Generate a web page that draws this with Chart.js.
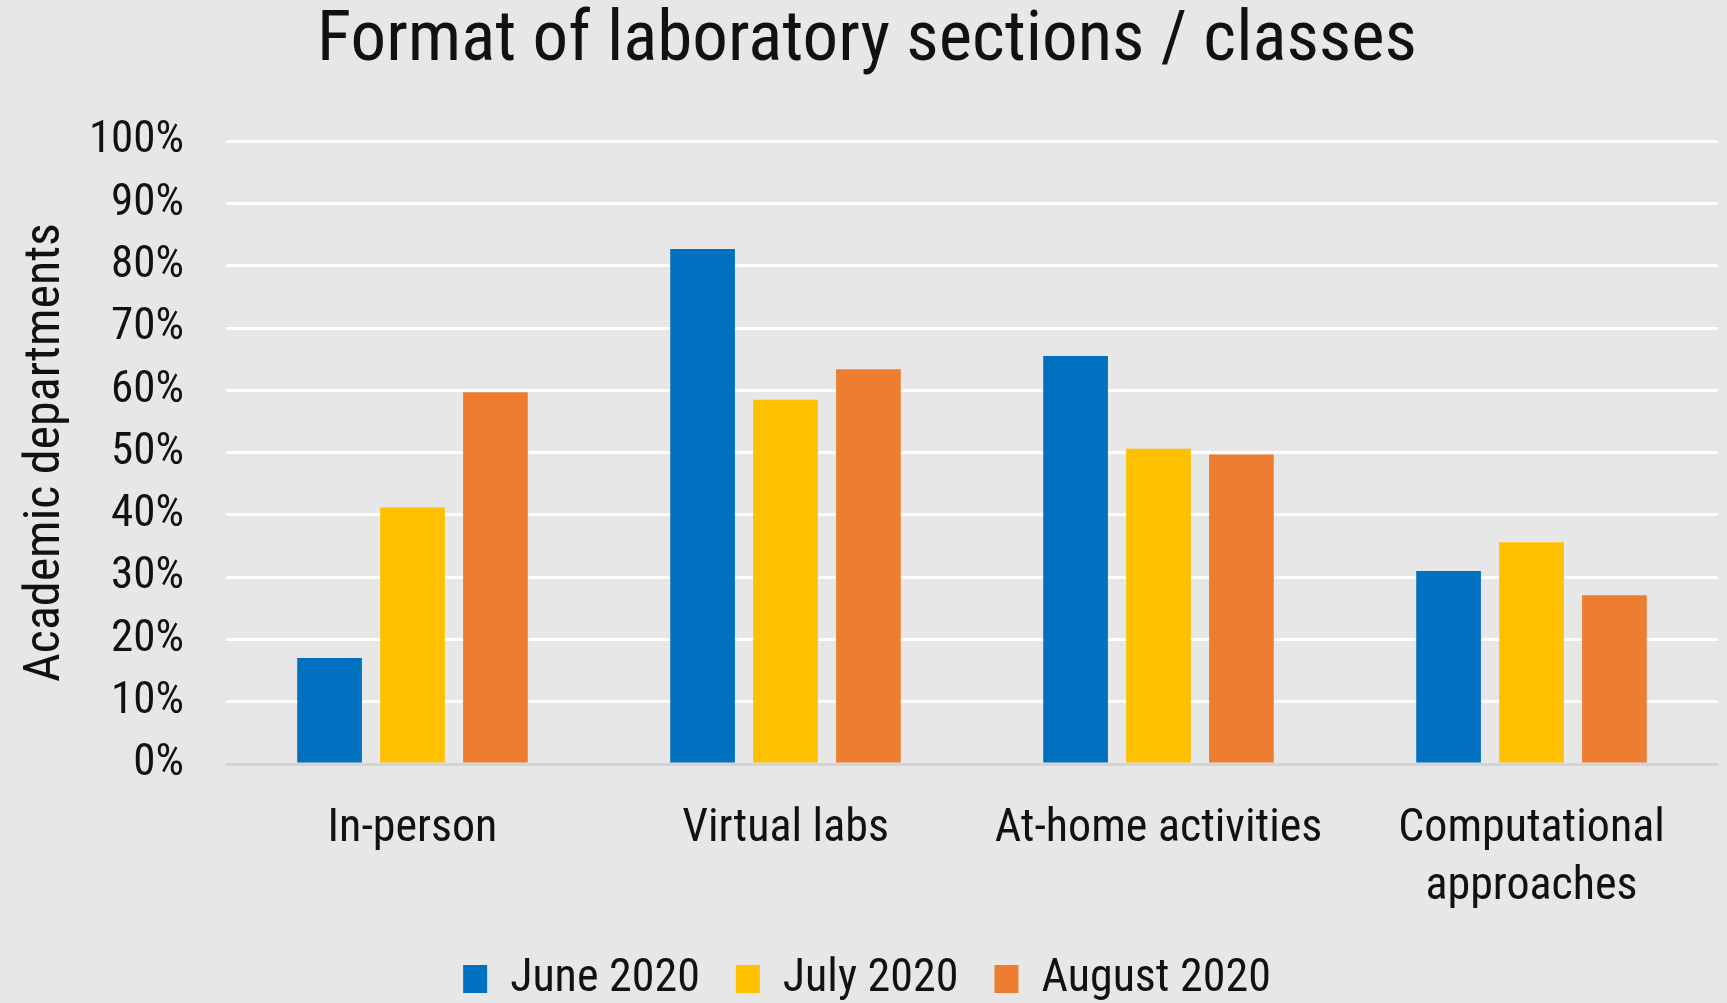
<!DOCTYPE html>
<html>
<head>
<meta charset="utf-8">
<script src="https://cdn.jsdelivr.net/npm/chart.js@4"></script>
<style>
  html, body { margin: 0; padding: 0; background: #e7e7e7; }
  #wrap { width: 1727px; height: 1003px; position: relative; }
</style>
</head>
<body>
<div id="wrap"><canvas id="chart"></canvas></div>
<script>
const categories = ["In-person", "Virtual labs", "At-home activities", ["Computational", "approaches"]];
const seriesNames = ["June 2020", "July 2020", "August 2020"];
const june2020 = [17, 82.7, 65.5, 31];
const july2020 = [41.2, 58.5, 50.6, 35.6];
const august2020 = [59.7, 63.4, 49.7, 27.1];
const yTicks = [0, 10, 20, 30, 40, 50, 60, 70, 80, 90, 100];

const colors = ["#0070C0", "#FFC000", "#ED7D31"];
const fontFamily = "'Liberation Sans Narrow', 'Roboto Condensed', Roboto, sans-serif";

const bgPlugin = {
  id: "bg",
  beforeDraw(chart) {
    const { ctx, width, height } = chart;
    ctx.save();
    ctx.fillStyle = "#e7e7e7";
    ctx.fillRect(0, 0, width, height);
    ctx.restore();
  },
};

const data = {
  labels: categories,
  datasets: [june2020, july2020, august2020].map((values, i) => ({
    label: seriesNames[i],
    data: values,
    backgroundColor: colors[i],
    categoryPercentage: 0.667,
    barPercentage: 0.78,
  })),
};

new Chart(document.getElementById("chart"), {
  type: "bar",
  data,
  plugins: [bgPlugin],
  options: {
    responsive: true,
    maintainAspectRatio: false,
    animation: false,
    layout: { padding: { left: 16, right: 9, top: 0, bottom: 0 } },
    plugins: {
      title: {
        display: true,
        text: "Format of laboratory sections / classes",
        color: "#111",
        font: { family: fontFamily, size: 71, weight: "normal" },
        padding: { top: 0, bottom: 56 },
      },
      legend: {
        position: "bottom",
        maxHeight: 83,
        labels: {
          color: "#111",
          font: { family: fontFamily, size: 46 },
          boxWidth: 24,
          boxHeight: 28,
          padding: 36,
        },
      },
      tooltip: { enabled: false },
    },
    scales: {
      x: {
        afterFit(scale) {
          scale.height = 156;
        },
        grid: { display: false },
        border: { display: false },
        ticks: {
          color: "#111",
          font: { family: fontFamily, size: 46, lineHeight: 1.25 },
          padding: 29,
          maxRotation: 0,
        },
      },
      y: {
        min: 0,
        max: 100,
        afterBuildTicks(scale) {
          scale.ticks = yTicks.map(v => ({ value: v }));
        },
        afterFit(scale) {
          scale.width = 210;
        },
        border: { display: false },
        grid: {
          drawTicks: false,
          lineWidth: 3,
          color: c => (c.tick && c.tick.value === 0 ? "#d4d4d4" : "#ffffff"),
        },
        ticks: {
          color: "#111",
          font: { family: fontFamily, size: 45 },
          padding: 42,
          callback: v => v + "%",
        },
        title: {
          display: true,
          text: "Academic departments",
          color: "#111",
          font: { family: fontFamily, size: 50 },
          padding: 0,
        },
      },
    },
  },
});
</script>
</body>
</html>
